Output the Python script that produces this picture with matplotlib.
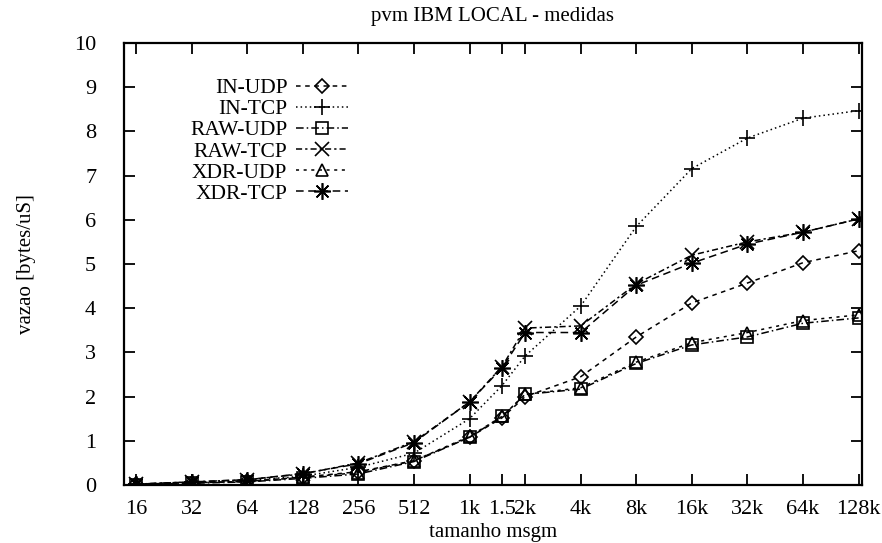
import matplotlib
matplotlib.use("Agg")
import matplotlib.pyplot as plt
from matplotlib.ticker import FixedLocator, NullLocator

plt.rcParams['font.family'] = ['Liberation Serif', 'DejaVu Serif']

# message sizes (bytes) and their axis labels
sizes = [16, 32, 64, 128, 256, 512, 1024, 1536, 2048, 4096, 8192,
         16384, 32768, 65536, 131072]
size_labels = ["16", "32", "64", "128", "256", "512", "1k", "1.5", "2k",
               "4k", "8k", "16k", "32k", "64k", "128k"]

# throughput in bytes/uS
in_udp = [0.02, 0.05, 0.08, 0.18, 0.30, 0.55, 1.08, 1.52, 2.00, 2.45,
          3.35, 4.12, 4.57, 5.03, 5.30]
in_tcp = [0.02, 0.06, 0.10, 0.20, 0.40, 0.72, 1.50, 2.25, 2.92, 4.05,
          5.85, 7.16, 7.85, 8.30, 8.47]
raw_udp = [0.01, 0.04, 0.07, 0.15, 0.25, 0.53, 1.08, 1.55, 2.05, 2.17,
           2.75, 3.17, 3.35, 3.66, 3.78]
raw_tcp = [0.02, 0.07, 0.12, 0.25, 0.50, 0.98, 1.88, 2.68, 3.55, 3.60,
           4.55, 5.20, 5.50, 5.72, 6.02]
xdr_udp = [0.02, 0.05, 0.08, 0.17, 0.28, 0.55, 1.10, 1.55, 2.05, 2.20,
           2.78, 3.22, 3.45, 3.72, 3.85]
xdr_tcp = [0.02, 0.07, 0.12, 0.26, 0.48, 0.96, 1.88, 2.65, 3.45, 3.45,
           4.52, 5.02, 5.45, 5.72, 6.02]

series = [
    ("IN-UDP", in_udp, "D", (0, (3, 3)), 7),
    ("IN-TCP", in_tcp, "+", (0, (1, 2)), 11),
    ("RAW-UDP", raw_udp, "s", (0, (5, 2, 1, 2)), 8),
    ("RAW-TCP", raw_tcp, "x", (0, (4, 2, 1.5, 2)), 10),
    ("XDR-UDP", xdr_udp, "^", (0, (2, 3)), 8),
    ("XDR-TCP", xdr_tcp, (8, 2, 0), (0, (5, 3)), 12),
]

fig = plt.figure(figsize=(8.82, 5.43), dpi=100)
ax = fig.add_axes([0.1406, 0.1068, 0.8364, 0.8140])

for name, vals, mk, ls, ms in series:
    ax.plot(sizes, vals, color="black", linestyle=ls, linewidth=1.1,
            marker=mk, markersize=ms, markerfacecolor="none",
            markeredgecolor="black", markeredgewidth=1.2, label=name)

ax.set_xscale("log", base=2)
ax.set_xlim(13.77, 136200)
ax.set_ylim(0, 10)

ax.xaxis.set_major_locator(FixedLocator(sizes))
ax.xaxis.set_minor_locator(NullLocator())
ax.set_xticklabels(size_labels)
ax.set_yticks(range(0, 11))

ax.tick_params(axis="both", direction="in", length=8, width=1.3,
               labelsize=16, top=True, right=True)
ax.tick_params(axis="x", pad=11)
ax.tick_params(axis="y", pad=20)
for sp in ax.spines.values():
    sp.set_linewidth(1.6)

ax.set_title("pvm IBM LOCAL - medidas", fontsize=15, pad=16)
ax.set_xlabel("tamanho msgm", fontsize=15, labelpad=3)
ax.set_ylabel("vazao [bytes/uS]", fontsize=15, labelpad=27)

leg = ax.legend(loc="upper left", bbox_to_anchor=(0.075, 0.945),
                frameon=False, markerfirst=False, fontsize=15.5,
                handlelength=2.4, handletextpad=0.4, labelspacing=0.05,
                borderpad=0)

fig.savefig("out.png", dpi=100)
